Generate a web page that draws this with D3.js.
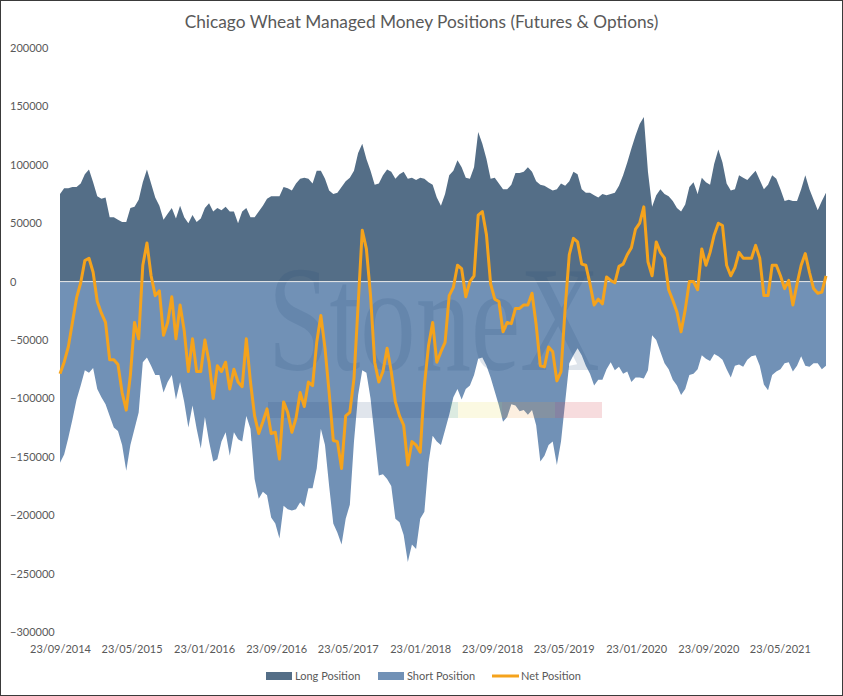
<!DOCTYPE html>
<html>
<head>
<meta charset="utf-8">
<script src="https://cdn.jsdelivr.net/npm/d3@7"></script>
<style>
  body { margin: 0; background: #fff; }
  svg { display: block; }
  text { font-family: Lato, "Open Sans", sans-serif; fill: #595959; }
</style>
</head>
<body>
<div id="chart"></div>
<script>
// weekly COT readings, sampled every second week, in thousands of contracts
const startDate = new Date(2014, 8, 23);
const stepDays = 14;

const longK = [
  75, 80, 80, 81, 81, 84, 92, 96, 85, 73, 71, 72, 55, 55, 53, 51, 51, 63, 64, 70,
  85, 96, 84, 72, 65, 53, 58, 63, 54, 65, 55, 50, 57, 51, 54, 63, 67, 60, 63, 61,
  64, 60, 60, 50, 60, 63, 55, 55, 60, 65, 71, 73, 73, 73, 81, 80, 78, 84, 88, 89,
  88, 84, 95, 95, 88, 78, 75, 76, 81, 86, 89, 95, 110, 118, 105, 95, 83, 84, 91, 96,
  94, 88, 92, 94, 88, 89, 87, 89, 88, 85, 83, 72, 65, 75, 91, 95, 104, 98, 89, 88,
  98, 128, 118, 105, 88, 89, 84, 79, 79, 83, 93, 93, 94, 98, 94, 86, 83, 82, 80, 78,
  79, 84, 82, 86, 94, 92, 79, 76, 76, 74, 72, 75, 74, 75, 76, 82, 91, 102, 114, 125,
  135, 141, 94, 64, 74, 79, 75, 73, 69, 63, 60, 66, 81, 85, 75, 89, 85, 83, 101, 113,
  102, 84, 78, 79, 91, 89, 87, 91, 95, 87, 79, 83, 91, 88, 79, 69, 70, 69, 69, 79,
  91, 79, 70, 61, 69, 76
];

const shortK = [
  -155, -148, -134, -118, -101, -89, -76, -78, -74, -92, -99, -105, -115, -125, -128, -140, -162, -140, -126, -112,
  -69, -65, -72, -80, -80, -95, -86, -80, -101, -86, -103, -125, -106, -126, -143, -116, -137, -154, -152, -137,
  -129, -149, -129, -135, -137, -115, -126, -169, -186, -180, -183, -202, -207, -220, -192, -195, -196, -195, -189, -193,
  -177, -177, -160, -126, -140, -175, -207, -215, -225, -203, -191, -137, -97, -76, -78, -100, -133, -166, -165, -169,
  -175, -203, -206, -217, -240, -225, -229, -203, -197, -155, -132, -137, -140, -127, -114, -99, -92, -101, -92, -89,
  -80, -66, -65, -72, -82, -94, -106, -120, -116, -105, -106, -111, -110, -114, -110, -123, -154, -149, -140, -137,
  -157, -137, -103, -70, -63, -57, -63, -72, -79, -89, -84, -84, -75, -69, -76, -73, -79, -77, -86, -82,
  -82, -83, -76, -46, -50, -60, -70, -75, -84, -89, -97, -92, -80, -79, -75, -63, -66, -68, -62, -64,
  -67, -75, -82, -72, -71, -73, -67, -64, -63, -72, -88, -93, -80, -77, -75, -70, -69, -77, -72, -64,
  -72, -73, -70, -70, -75, -72
];

const netK = [
  -79, -69, -56, -35, -14, -1, 18, 20, 8, -17, -27, -35, -67, -67, -71, -95, -110, -80, -35, -49,
  14, 33, 5, -12, -8, -46, -35, -13, -49, -20, -42, -77, -49, -77, -77, -50, -69, -100, -72, -77,
  -69, -92, -75, -86, -90, -49, -86, -115, -130, -120, -109, -130, -129, -152, -103, -112, -129, -117, -95, -107,
  -86, -89, -52, -29, -57, -95, -136, -137, -160, -115, -112, -83, -20, 44, 28, -12, -69, -86, -77, -57,
  -77, -103, -115, -123, -157, -137, -140, -146, -89, -55, -35, -69, -60, -52, -12, -5, 14, 11, -13, 0,
  5, 57, 60, 40, -2, -15, -17, -43, -35, -36, -23, -23, -20, -20, -10, -37, -72, -73, -56, -60,
  -85, -77, -23, 23, 37, 34, 15, 14, -2, -20, -15, -19, 4, 1, -1, 13, 15, 23, 29, 45,
  50, 64, 17, 5, 34, 25, 20, -7, -16, -26, -43, -24, 0, 0, -7, 28, 14, 25, 40, 50,
  48, 14, 5, 12, 25, 20, 20, 20, 31, 20, -12, -12, 14, 14, 5, -6, 1, -20, -2, 14,
  24, 8, -6, -10, -9, 5
];

const yTicks = [200000, 150000, 100000, 50000, 0, -50000, -100000, -150000, -200000, -250000, -300000];
const xTickLabels = ["23/09/2014", "23/05/2015", "23/01/2016", "23/09/2016", "23/05/2017", "23/01/2018",
                     "23/09/2018", "23/05/2019", "23/01/2020", "23/09/2020", "23/05/2021"];
const seriesNames = ["Long Position", "Short Position", "Net Position"];

const width = 843, height = 696;
const margin = {top: 48, right: 17, bottom: 64, left: 60};
const colors = {long: "#546e87", short: "#7191b6", net: "#f5a31c"};

const dates = longK.map((_, i) => d3.timeDay.offset(startDate, i * stepDays));
const toRows = arr => arr.map((v, i) => ({date: dates[i], v: v * 1000}));
const longData = toRows(longK);
const shortData = toRows(shortK);
const netData = toRows(netK);

const x = d3.scaleTime()
    .domain([dates[0], dates[dates.length - 1]])
    .range([margin.left, width - margin.right]);
const y = d3.scaleLinear()
    .domain([-300000, 200000])
    .range([height - margin.bottom, margin.top]);

const svg = d3.select("#chart")
    .append("svg")
    .attr("width", width)
    .attr("height", height);

svg.append("rect")
    .attr("x", 0.5).attr("y", 0.5)
    .attr("width", width - 1).attr("height", height - 1)
    .attr("fill", "#fff")
    .attr("stroke", "#3a3a3a");

svg.append("text")
    .attr("x", width / 2)
    .attr("y", 28)
    .attr("text-anchor", "middle")
    .attr("font-size", 17.3)
    .text("Chicago Wheat Managed Money Positions (Futures & Options)");

let area = d3.area()
    .x(d => x(d.date))
    .y0(y(0))
    .y1(d => y(d.v));

svg.append("path")
    .datum(longData)
    .attr("d", area)
    .attr("fill", colors.long);

svg.append("path")
    .datum(shortData)
    .attr("d", area)
    .attr("fill", colors.short);

// StoneX watermark
let wm = svg.append("g").attr("class", "watermark");
wm.append("text")
    .attr("x", 268)
    .attr("y", 370)
    .attr("textLength", 332)
    .attr("lengthAdjust", "spacingAndGlyphs")
    .style("font-family", "'Liberation Serif', 'DejaVu Serif', serif")
    .style("font-size", "150px")
    .style("fill", "#24497a")
    .style("fill-opacity", 0.15)
    .text("StoneX");

const stripe = [
    {x0: 268, x1: 450, c: "#24497a", o: 0.14},
    {x0: 450, x1: 458, c: "#4f9a6a", o: 0.2},
    {x0: 458, x1: 502, c: "#e6d84a", o: 0.16},
    {x0: 502, x1: 555, c: "#ef9a3c", o: 0.16},
    {x0: 555, x1: 602, c: "#d9505c", o: 0.2}
];
wm.selectAll("rect")
    .data(stripe)
    .enter()
    .append("rect")
    .attr("x", d => d.x0)
    .attr("y", 402)
    .attr("width", d => d.x1 - d.x0)
    .attr("height", 16)
    .attr("fill", d => d.c)
    .attr("fill-opacity", d => d.o);

svg.append("line")
    .attr("x1", x.range()[0]).attr("x2", x.range()[1])
    .attr("y1", y(0)).attr("y2", y(0))
    .attr("stroke", "#e6e6e6")
    .attr("stroke-width", 1);

svg.append("path")
    .datum(netData)
    .attr("d", d3.line().x(d => x(d.date)).y(d => y(d.v)))
    .attr("fill", "none")
    .attr("stroke", colors.net)
    .attr("stroke-width", 3)
    .attr("stroke-linejoin", "round");

// axes
let yAxis = svg.append("g")
    .attr("transform", "translate(10,0)")
    .call(d3.axisLeft(y).tickValues(yTicks).tickSize(0).tickFormat(d3.format("d")));
yAxis.select(".domain").remove();
yAxis.selectAll("text")
    .attr("x", 0)
    .attr("text-anchor", "start")
    .attr("font-size", 11)
    .attr("fill", "#595959")
    .style("font-family", "Lato, sans-serif");

const parseDay = d3.timeParse("%d/%m/%Y");
let xAxis = svg.append("g")
    .attr("transform", "translate(0," + (height - margin.bottom + 10) + ")")
    .call(d3.axisBottom(x)
        .tickValues(xTickLabels.map(parseDay))
        .tickSize(0)
        .tickFormat(d3.timeFormat("%d/%m/%Y")));
xAxis.select(".domain").remove();
xAxis.selectAll("text")
    .attr("font-size", 11)
    .attr("fill", "#595959")
    .style("font-family", "Lato, sans-serif");

// legend
const legendItems = [
    {name: seriesNames[0], type: "box", color: colors.long, x: 266},
    {name: seriesNames[1], type: "box", color: colors.short, x: 378},
    {name: seriesNames[2], type: "line", color: colors.net, x: 492}
];
let legend = svg.selectAll(".legend")
    .data(legendItems)
    .enter()
    .append("g")
    .attr("class", "legend")
    .attr("transform", d => "translate(" + d.x + ",676)");

legend.filter(d => d.type === "box")
    .append("rect")
    .attr("x", 0).attr("y", -4)
    .attr("width", 26).attr("height", 8)
    .attr("fill", d => d.color);

legend.filter(d => d.type === "line")
    .append("line")
    .attr("x1", 0).attr("x2", 27)
    .attr("y1", 0).attr("y2", 0)
    .attr("stroke", d => d.color)
    .attr("stroke-width", 3);

legend.append("text")
    .attr("x", 29)
    .attr("dy", "0.35em")
    .attr("font-size", 11)
    .text(d => d.name);
</script>
</body>
</html>
